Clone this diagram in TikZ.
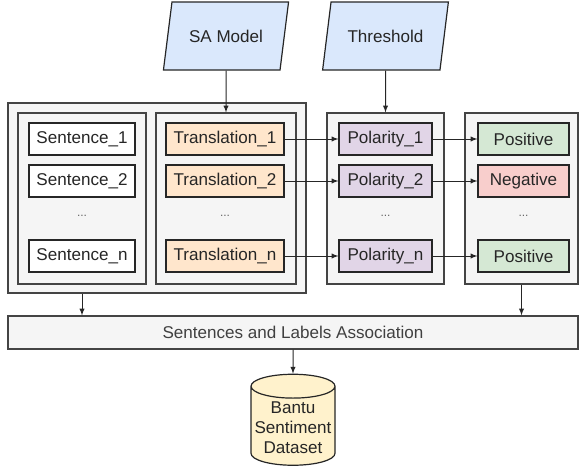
\documentclass[tikz,border=0pt]{standalone}
\usepackage{fontspec}
\setmainfont{Liberation Sans}
\usetikzlibrary{shapes.geometric}

\definecolor{groupfill}{HTML}{F5F5F5}
\definecolor{groupline}{HTML}{444444}
\definecolor{itemline}{HTML}{262626}
\definecolor{inputfill}{HTML}{DAE8FC}
\definecolor{transfill}{HTML}{FFE6CC}
\definecolor{polfill}{HTML}{E1D5E7}
\definecolor{posfill}{HTML}{D5E8D4}
\definecolor{negfill}{HTML}{F8CECC}
\definecolor{dbfill}{HTML}{FFF2CC}

\tikzset{
	group/.style = {draw = groupline, fill = groupfill, line width = 0.9pt, inner sep = 0pt},
	item/.style = {draw = itemline, line width = 0.9pt, minimum height = 24pt, inner sep = 0pt, text = black!85},
	inputbox/.style = {trapezium, trapezium left angle = 73, trapezium right angle = 107, trapezium stretches = true,
		draw = itemline, fill = inputfill, line width = 0.9pt, minimum width = 94.5pt, minimum height = 51pt, text = black!85},
	dots/.style = {text = black!60, font = \fontsize{9}{10}\selectfont},
	link/.style = {->, draw = itemline, line width = 0.75pt}
}

\begin{document}
\begin{tikzpicture}[x = 0.75pt, y = -0.75pt, > = latex, font = \fontsize{12.8}{15}\selectfont]

	\useasboundingbox (0, 0) rectangle (580, 475);

	% Inputs

	\node (model) [inputbox] at (226, 36) {SA Model};
	\node (thresh) [inputbox] at (385.5, 36) {Threshold};

	% Groups

	\node (outer) [group, minimum width = 223.5pt, minimum height = 142.5pt] at (157, 198) {};
	\node (sentgrp) [group, minimum width = 96pt, minimum height = 128.25pt] at (82, 198.5) {};
	\node (transgrp) [group, minimum width = 105pt, minimum height = 128.25pt] at (226, 198.5) {};
	\node (polgrp) [group, minimum width = 87.75pt, minimum height = 128.25pt] at (385.5, 198.5) {};
	\node (labgrp) [group, minimum width = 84.75pt, minimum height = 128.25pt] at (521.5, 198.5) {};

	% Rows

	\foreach \i/\y in {1/139, 2/181, n/256}
	{
		\node (sent\i) [item, fill = white, minimum width = 79.5pt] at (82, \y) {Sentence\_\i};
		\node (trans\i) [item, fill = transfill, minimum width = 88.5pt] at (225, \y) {Translation\_\i};
		\node (pol\i) [item, fill = polfill, minimum width = 69.75pt] at (385.5, \y) {Polarity\_\i};
	}

	\node (lab1) [item, fill = posfill, minimum width = 68.25pt] at (523.5, 139) {Positive};
	\node (lab2) [item, fill = negfill, minimum width = 68.25pt] at (523.5, 181) {Negative};
	\node (labn) [item, fill = posfill, minimum width = 68.25pt] at (523.5, 256) {Positive};

	\foreach \x/\nm in {82/sentdots, 225/transdots, 385.5/poldots, 523.5/labdots}
		\node (\nm) [dots] at (\x, 216) {...};

	% Association and dataset

	\node (assoc) [group, minimum width = 427.5pt, minimum height = 24.75pt, text = black!75] at (293, 332.5)
		{Sentences and Labels Association};
	\node (dataset) [cylinder, shape border rotate = 90, aspect = 0.3, draw = itemline, fill = dbfill, line width = 0.9pt,
		minimum width = 63pt, minimum height = 68.25pt, inner sep = 1pt, align = center, text = black!85] at (293, 427.5)
		{Bantu\\Sentiment\\Dataset};

	% Connectors

	\draw [link] (model) -- (transgrp.north);
	\draw [link] (thresh) -- (polgrp.north);

	\foreach \i in {1, 2, n}
	{
		\draw [link] (trans\i) -- (pol\i);
		\draw [link] (pol\i) -- (lab\i);
	}

	\draw [link] (outer.south -| sentgrp.south) -- (assoc.north -| sentgrp.south);
	\draw [link] (labgrp.south) -- (assoc.north -| labgrp.south);
	\draw [link] (assoc) -- (dataset.north);

\end{tikzpicture}
\end{document}
